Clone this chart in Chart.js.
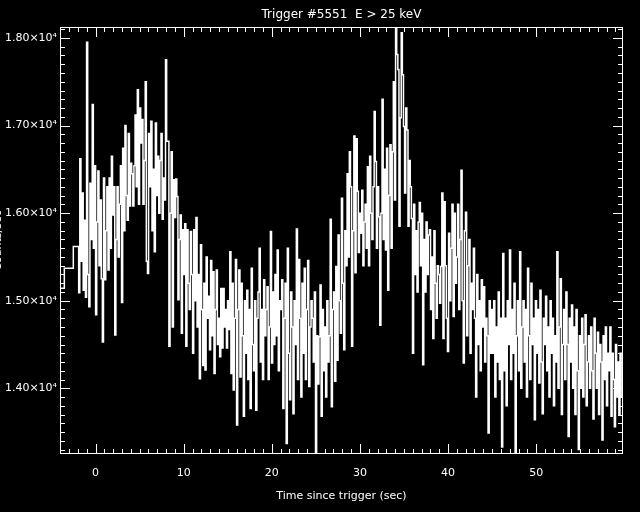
<!DOCTYPE html>
<html>
<head>
<meta charset="utf-8">
<script src="https://cdn.jsdelivr.net/npm/chart.js@4.4.0/dist/chart.umd.min.js"></script>
<style>
  html, body { margin: 0; padding: 0; background: #000; }
  canvas { display: block; }
</style>
</head>
<body>
<canvas id="lc" width="640" height="512"></canvas>
<script>
const titleText = "Trigger #5551  E > 25 keV";
const xTitle = "Time since trigger (sec)";
const yTitle = "Counts/sec";

// wide pre-trigger bins
const preStart = [-4.6, -3.55, -2.53];
const preCounts = [15143, 15371, 15619];

// 0.128 s bins from -2.048 s, 8 bins per row (~1 s)
const binStart = -2.048;
const binWidth = 0.128;
const counts = [
  15620, 15090, 16620, 15450, 16230, 15120, 15920, 15040,
  17950, 15300, 14930, 16340, 15700, 17240, 15600, 16540,
  14840, 15900, 16480, 15400, 16150, 15250, 14530, 16400,
  15240, 15800, 16300, 15350, 16400, 15600, 16650, 15980,
  16300, 14610, 15700, 16300, 15500, 16100, 16540, 14980,
  16740, 15800, 17000, 16200, 15920, 16910, 16080, 16570,
  16450, 16080, 16540, 17120, 16300, 17410, 16100, 17200,
  16800, 17070, 16100, 16600, 17500, 15450, 15310, 16910,
  16300, 17050, 15800, 16500, 15560, 17030, 16200, 16650,
  16000, 16600, 16910, 15930, 16400, 16150, 17750, 16820,
  16820, 14480, 16000, 16700, 14700, 16380, 15950, 16390,
  16190, 15010, 15700, 15980, 14630, 15810, 15300, 15880,
  14480, 15810, 15200, 14900, 15790, 15300, 14400, 15810,
  15000, 15950, 14700, 15300, 14110, 15640, 14900, 14260,
  15200, 14210, 15500, 14800, 15050, 14440, 15460, 14600,
  15330, 14170, 14900, 15350, 14500, 14800, 14360, 15140,
  14460, 15140, 14700, 14900, 14460, 15000, 14670, 15560,
  14170, 15200, 13980, 14800, 15470, 13580, 14900, 15350,
  14130, 15200, 14600, 13680, 15000, 14400, 15120, 14100,
  14900, 13770, 15370, 14500, 14200, 15000, 13750, 14800,
  15100, 15600, 14300, 14900, 14100, 15240, 14600, 14900,
  15160, 14100, 14700, 15790, 14290, 15100, 14500, 15300,
  14600, 15580, 14200, 15000, 14900, 15240, 13770, 14800,
  15200, 13370, 15600, 14400, 13870, 15100, 14700, 13710,
  15000, 14500, 15820, 14100, 15470, 14800, 13900, 15200,
  14400, 15370, 14100, 14900, 15460, 14020, 14700, 15000,
  14800, 14300, 15100, 13260, 14600, 14050, 14590, 15180,
  13680, 14900, 14200, 14700, 13900, 15000, 14300, 14600,
  15930, 13790, 14900, 15100, 14080, 15390, 14320, 15750,
  15000, 14630, 16170, 15200, 14440, 15800, 15400, 16450,
  15500, 16700, 16300, 14480, 15800, 16880, 15320, 16850,
  16250, 15550, 16000, 15770, 16260, 15400, 15900, 16100,
  15600, 16530, 15400, 16650, 16000, 15700, 16300, 17160,
  16590, 15600, 16300, 15960, 14720, 16000, 17300, 15700,
  16500, 15580, 16740, 15120, 16200, 16780, 15600, 16700,
  17500, 16150, 18200, 17810, 17640, 15850, 17090, 18060,
  17580, 16990, 16230, 17200, 16950, 15850, 16600, 16300,
  15940, 14400, 16100, 15300, 15800, 15100, 15900, 16120,
  15400, 16000, 14270, 15700, 15100, 15900, 15300, 15750,
  15810, 14900, 15500, 14570, 15800, 15200, 14800, 15400,
  15300, 14970, 15390, 16230, 14570, 16130, 15400, 14800,
  14420, 15770, 15000, 15600, 16100, 14820, 16000, 15200,
  15500, 16100, 14900, 15700, 16490, 15000, 14290, 15800,
  16010, 14600, 15400, 15700, 14400, 15200, 14900, 15600,
  14800, 13900, 15300, 14500, 15000, 14200, 15240, 14700,
  15160, 14300, 14800, 14600, 13490, 15000, 14400, 14900,
  14400, 15000, 13900, 14700, 14300, 15100, 14100, 14800,
  13330, 15540, 14200, 14800, 13800, 15000, 14500, 15580,
  14100, 14900, 14400, 15200, 13240, 14600, 15000, 14200,
  15560, 14000, 14700, 15000, 14300, 14900, 13900, 15370,
  14600, 14100, 15200, 14500, 14800, 13640, 15000, 14400,
  14900, 14060, 15120, 14300, 13710, 14800, 14500, 15050,
  14200, 14700, 13900, 15000, 14400, 14800, 13800, 14600,
  14300, 15560, 14000, 14700, 15250, 13700, 14500, 14900,
  14100, 15100, 14500, 13450, 14800, 14300, 14950, 14000,
  14700, 13700, 14900, 14200, 13300, 14600, 14000, 14800,
  13900, 14500, 14840, 13800, 14300, 14600, 14000, 14700,
  14200, 13650, 14800, 14400, 14000, 14640, 13700, 14500,
  14300, 13410, 14600, 14100, 14700, 13800, 14400, 14200,
  14700, 13680, 14400, 14100, 13560, 14500, 13900, 14300,
  13700, 14400, 13900, 13900
];

// axis ranges and labelled ticks
const xMin = -4.04, xMax = 59.86;
const yMin = 13250, yMax = 18125;
const xTicks = [0, 10, 20, 30, 40, 50];
const yTicks = [14000, 15000, 16000, 17000, 18000];

const points = [];
preStart.forEach(function (t, i) { points.push({ x: t, y: preCounts[i] }); });
counts.forEach(function (c, i) { points.push({ x: binStart + i * binWidth, y: c }); });
points.push({ x: binStart + counts.length * binWidth, y: counts[counts.length - 1] });

const idlFrame = {
  id: 'idlFrame',
  beforeDraw: function (chart) {
    const c = chart.ctx;
    c.save();
    c.fillStyle = '#000';
    c.fillRect(0, 0, chart.width, chart.height);
    c.restore();
  },
  afterDraw: function (chart) {
    const c = chart.ctx, a = chart.chartArea;
    const xs = chart.scales.x, ys = chart.scales.y;
    c.save();
    c.strokeStyle = '#fff';
    c.lineWidth = 1;
    c.strokeRect(a.left + 0.5, a.top + 0.5, a.right - a.left - 1, a.bottom - a.top - 1);
    c.beginPath();
    for (let t = -4; t <= 59; t++) {
      const px = Math.round(xs.getPixelForValue(t)) + 0.5;
      const len = t % 10 === 0 ? 10 : 5;
      c.moveTo(px, a.bottom); c.lineTo(px, a.bottom - len);
      c.moveTo(px, a.top); c.lineTo(px, a.top + len);
    }
    for (let v = 13300; v <= 18100; v += 100) {
      const py = Math.round(ys.getPixelForValue(v)) + 0.5;
      const len = v % 1000 === 0 ? 10 : 5;
      c.moveTo(a.left, py); c.lineTo(a.left + len, py);
      c.moveTo(a.right, py); c.lineTo(a.right - len, py);
    }
    c.stroke();

    c.fillStyle = '#fff';
    c.font = '12px "DejaVu Sans"';
    c.textAlign = 'center';
    c.textBaseline = 'alphabetic';
    c.fillText(titleText, (a.left + a.right) / 2, 18);

    // y title sits mostly off the left edge, as in the original plot
    c.translate(1, (a.top + a.bottom) / 2);
    c.rotate(-Math.PI / 2);
    c.font = '11px "DejaVu Sans"';
    c.fillText(yTitle, 0, 0);
    c.restore();
  }
};

const ctx = document.getElementById('lc').getContext('2d');
const lc = new Chart(ctx, {
  type: 'line',
  data: {
    datasets: [{
      data: points,
      stepped: true,
      borderColor: '#fff',
      borderWidth: 1.5,
      pointRadius: 0,
      fill: false
    }]
  },
  options: {
    responsive: false,
    animation: false,
    layout: { padding: { top: 27, right: 17, left: 0, bottom: 0 } },
    plugins: {
      legend: { display: false },
      tooltip: { enabled: false },
      title: { display: false }
    },
    scales: {
      x: {
        type: 'linear',
        min: xMin,
        max: xMax,
        grid: { display: false, drawTicks: false },
        border: { display: false },
        afterBuildTicks: function (s) {
          s.ticks = xTicks.map(function (v) { return { value: v }; });
        },
        ticks: {
          color: '#fff',
          padding: 13,
          maxRotation: 0,
          font: { family: 'DejaVu Sans', size: 11 }
        },
        title: {
          display: true,
          text: xTitle,
          color: '#fff',
          padding: { top: 0, bottom: 9 },
          font: { family: 'DejaVu Sans', size: 11 }
        },
        afterFit: function (s) { s.height = 58; }
      },
      y: {
        min: yMin,
        max: yMax,
        grid: { display: false, drawTicks: false },
        border: { display: false },
        afterBuildTicks: function (s) {
          s.ticks = yTicks.map(function (v) { return { value: v }; });
        },
        ticks: {
          color: '#fff',
          padding: 3,
          font: { family: 'DejaVu Sans', size: 11 },
          callback: function (v) { return (v / 10000).toFixed(2) + '×10⁴'; }
        },
        afterFit: function (s) { s.width = 60; }
      }
    }
  },
  plugins: [idlFrame]
});
</script>
</body>
</html>
